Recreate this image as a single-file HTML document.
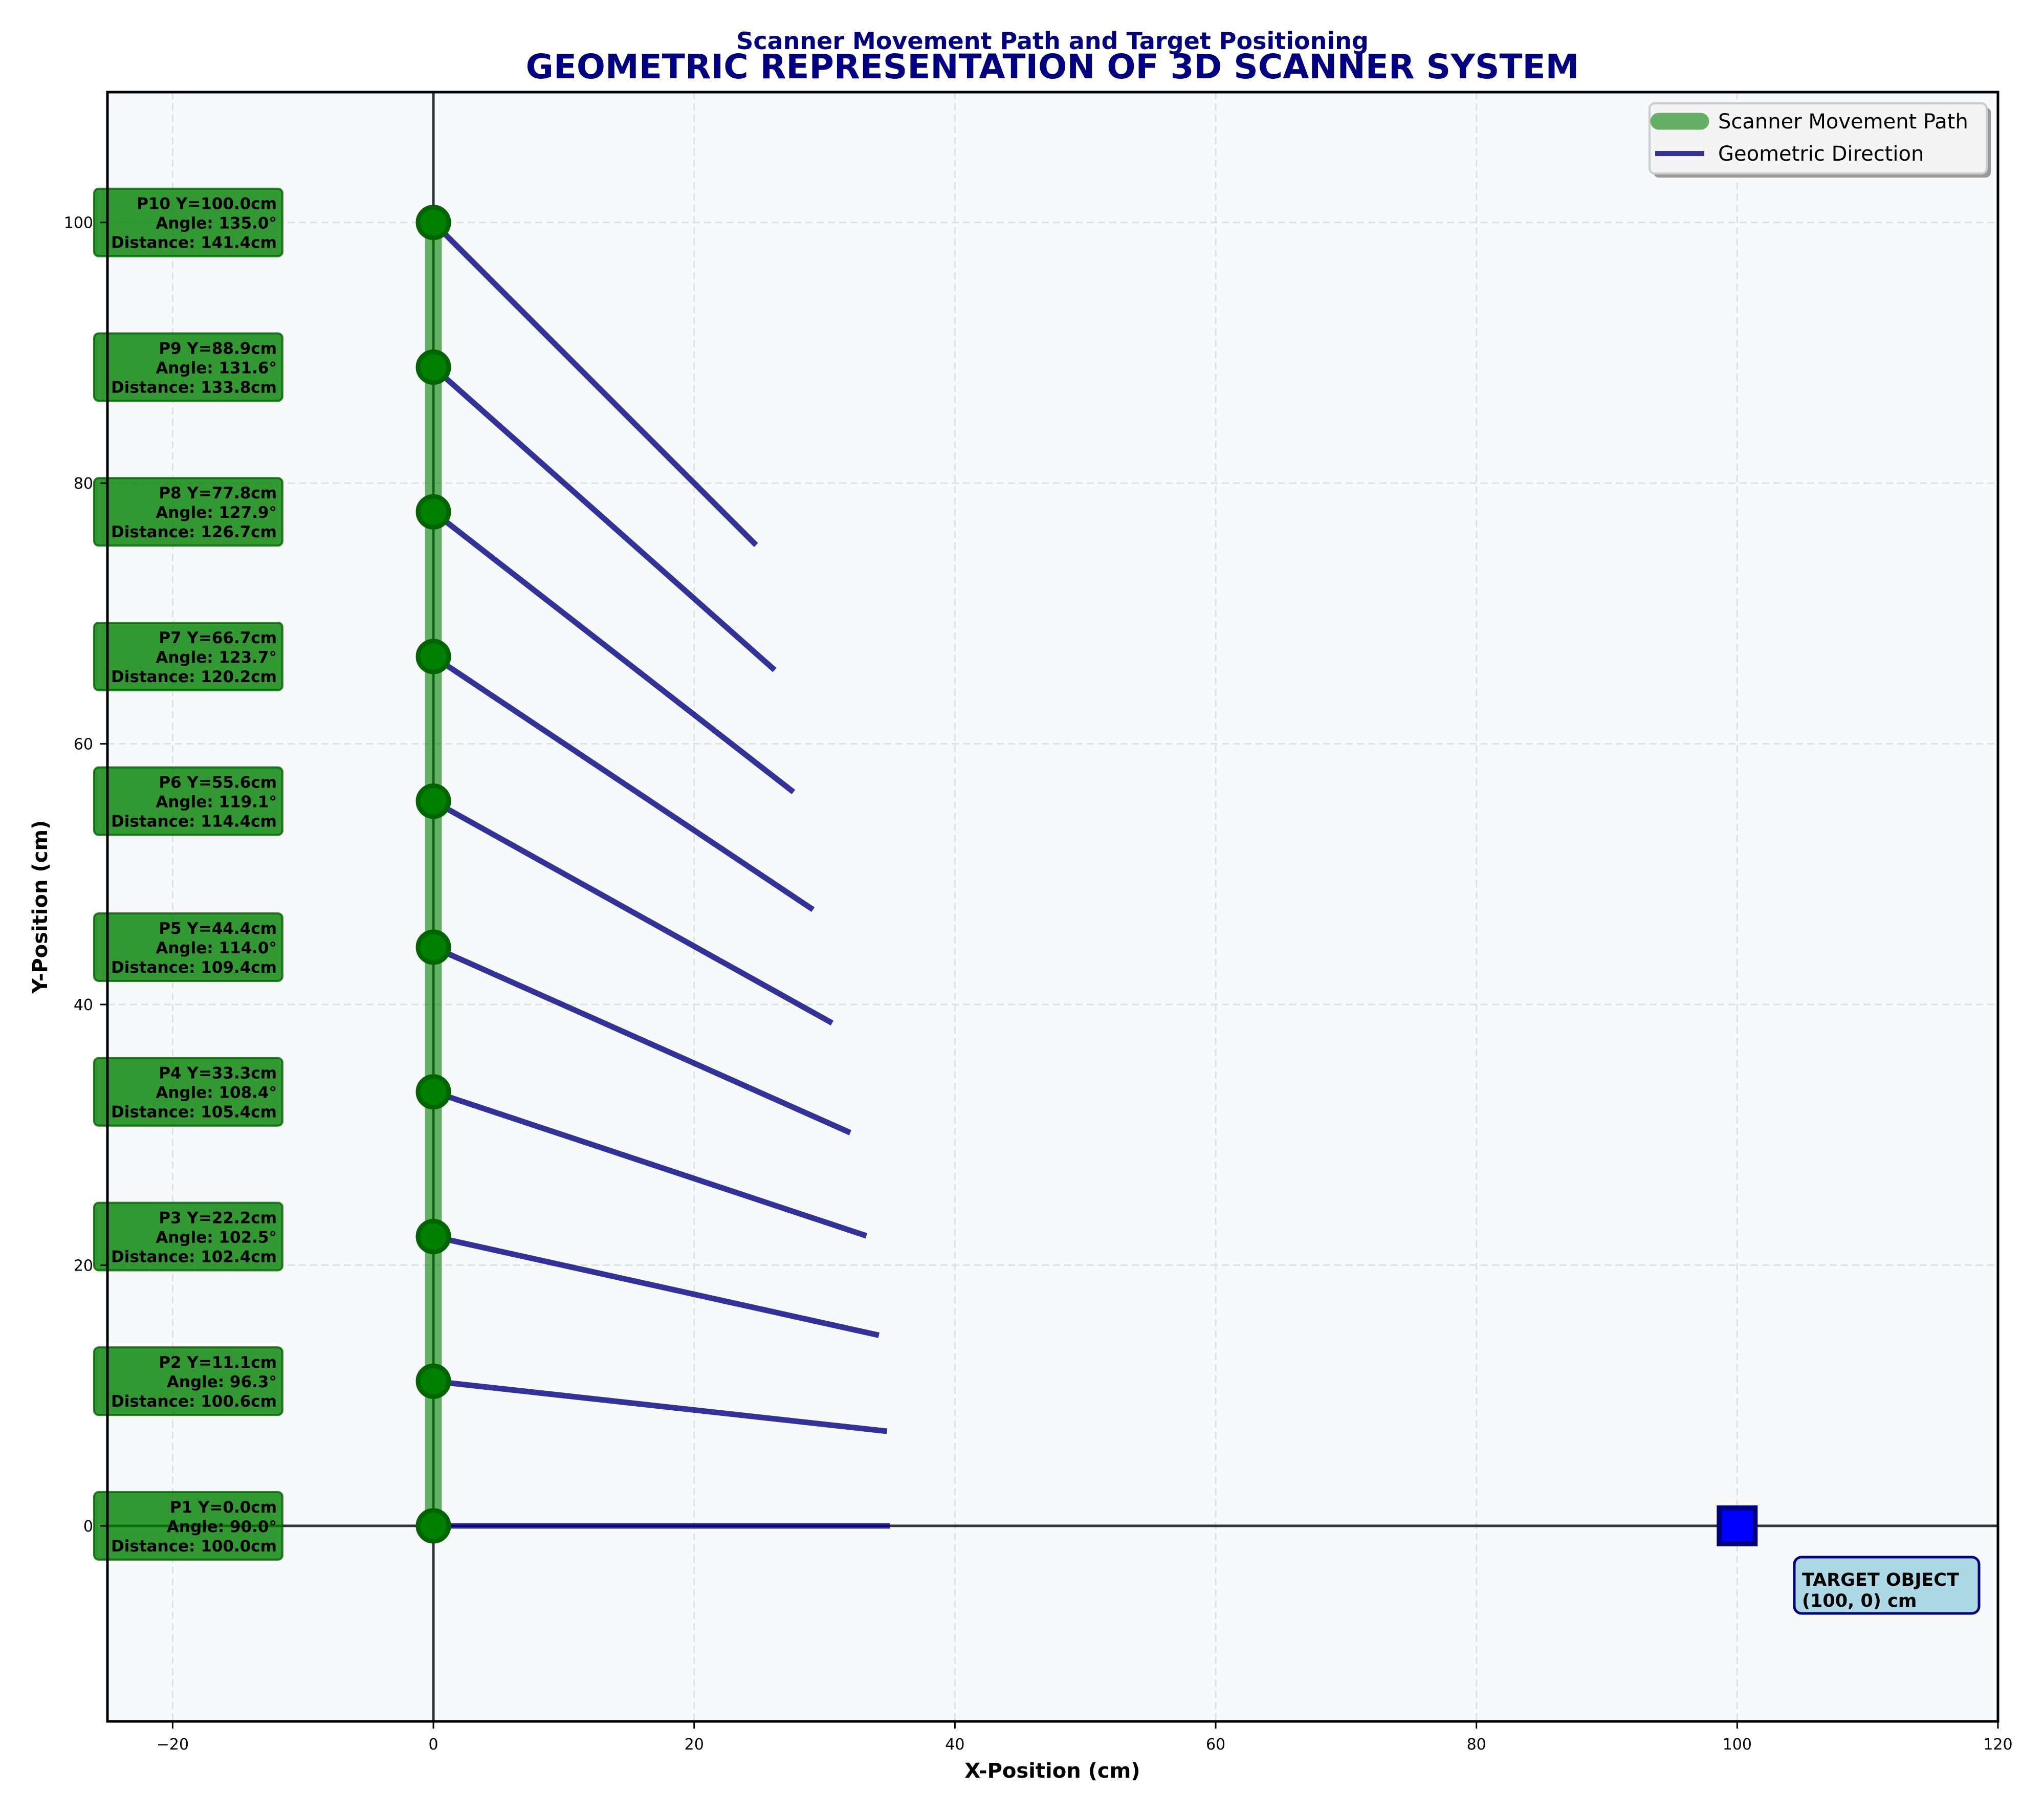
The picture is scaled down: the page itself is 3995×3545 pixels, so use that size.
<!DOCTYPE html>
<html><head><meta charset="utf-8"><style>
html,body{margin:0;padding:0;background:#fff}
svg{display:block;font-family:"DejaVu Sans","Liberation Sans",sans-serif}
</style></head><body>
<svg id="chart" width="3995" height="3545" viewBox="0 0 3995 3545" xmlns="http://www.w3.org/2000/svg">
<text x="2057" y="96" text-anchor="middle" font-size="46" font-weight="bold" fill="#000080">Scanner Movement Path and Target Positioning</text>
<text x="2057" y="153" text-anchor="middle" font-size="66" font-weight="bold" fill="#000080">GEOMETRIC REPRESENTATION OF 3D SCANNER SYSTEM</text>
<rect x="210" y="180" width="3695" height="3184" fill="#f8f9fa"/>
<g id="grid"></g>
<g id="marks"></g>
<rect x="210" y="180" width="3695" height="3184" fill="none" stroke="#000" stroke-width="5"/>
<g id="ticks"></g>
<text x="2057" y="3474" text-anchor="middle" font-size="40" font-weight="bold">X-Position (cm)</text>
<text transform="translate(92,1772) rotate(-90)" text-anchor="middle" font-size="40" font-weight="bold">Y-Position (cm)</text>
<g>
<rect x="3232" y="210" width="659" height="137" rx="10" fill="#999"/>
<rect x="3224" y="202" width="659" height="137" rx="10" fill="#f4f4f4" stroke="#cccccc" stroke-width="4"/>
<line x1="3242" y1="237" x2="3324" y2="237" stroke="#66b066" stroke-width="33" stroke-linecap="round"/>
<text x="3358" y="251" font-size="40">Scanner Movement Path</text>
<line x1="3235" y1="300" x2="3331" y2="300" stroke="#333399" stroke-width="10"/>
<text x="3358" y="314" font-size="40">Geometric Direction</text>
</g>
</svg>
<script>
const positionsY = [0.0, 11.1, 22.2, 33.3, 44.4, 55.6, 66.7, 77.8, 88.9, 100.0];
const anglesDeg = [90.0, 96.3, 102.5, 108.4, 114.0, 119.1, 123.7, 127.9, 131.6, 135.0];
const distancesCm = [100.0, 100.6, 102.4, 105.4, 109.4, 114.4, 120.2, 126.7, 133.8, 141.4];
const target = [100, 0];
const xTicks = [-20, 0, 20, 40, 60, 80, 100, 120];
const yTicks = [0, 20, 40, 60, 80, 100];
const dirLength = 35;

const NS = "http://www.w3.org/2000/svg";
const X0 = 210, X1 = 3905, Y0 = 180, Y1 = 3364;
const xMin = -25, xMax = 120, yMin = -15, yMax = 110;
function sx(v){ return X0 + (v - xMin) / (xMax - xMin) * (X1 - X0); }
function sy(v){ return Y1 - (v - yMin) / (yMax - yMin) * (Y1 - Y0); }
function mk(tag, attrs, parent, txt){
  const e = document.createElementNS(NS, tag);
  for (const k in attrs) e.setAttribute(k, attrs[k]);
  if (txt !== undefined) e.textContent = txt;
  parent.appendChild(e); return e;
}
const grid = document.getElementById('grid');
const marks = document.getElementById('marks');
const ticks = document.getElementById('ticks');

xTicks.forEach(v => {
  const g = mk('line', {x1:sx(v), x2:sx(v), y1:Y0, y2:Y1, stroke:'#e0e0e0', 'stroke-width':3, 'stroke-dasharray':'14 8'}, grid);
  
  
  const t = mk('line', {x1:sx(v), x2:sx(v), y1:Y1, y2:Y1+14, stroke:'#000', 'stroke-width':3}, ticks);
  
  
  const l = mk('text', {x:sx(v), y:Y1+55, 'text-anchor':'middle', 'font-size':30}, ticks, v < 0 ? '\u2212' + Math.abs(v) : String(v));
  
  
});
yTicks.forEach(v => {
  const g = mk('line', {x1:X0, x2:X1, y1:sy(v), y2:sy(v), stroke:'#e0e0e0', 'stroke-width':3, 'stroke-dasharray':'14 8'}, grid);
  
  
  const t = mk('line', {x1:X0-14, x2:X0, y1:sy(v), y2:sy(v), stroke:'#000', 'stroke-width':3}, ticks);
  
  
  const l = mk('text', {x:X0-28, y:sy(v)+11, 'text-anchor':'end', 'font-size':30}, ticks, String(v));
  
  
});

const ax = mk('line', {x1:sx(0), x2:sx(0), y1:Y0, y2:Y1, stroke:'#333', 'stroke-width':5}, marks);


const ay = mk('line', {x1:X0, x2:X1, y1:sy(0), y2:sy(0), stroke:'#333', 'stroke-width':5}, marks);



const pth = mk('line', {x1:sx(0), x2:sx(0), y1:sy(positionsY[0]), y2:sy(positionsY[positionsY.length-1]), stroke:'rgb(0,128,0)', 'stroke-opacity':0.6, 'stroke-width':33}, marks);



positionsY.forEach((y, i) => {
  const a = anglesDeg[i] * Math.PI / 180;
  const ex = dirLength * Math.sin(a), ey = y + dirLength * Math.cos(a);
  const ln = mk('line', {x1:sx(0), y1:sy(y), x2:sx(ex), y2:sy(ey), stroke:'#000080', 'stroke-opacity':0.8, 'stroke-width':11}, marks);
  
  
});

positionsY.forEach((y, i) => {
  const c = mk('circle', {cx:sx(0), cy:sy(y), r:30, fill:'#008000', stroke:'#006400', 'stroke-width':9}, marks);
  
  
  const g = mk('g', {}, marks);
  
  
  const cy = sy(y);
  mk('rect', {x:184, y:cy-66, width:368, height:132, rx:9, fill:'rgba(0,128,0,0.8)', stroke:'#006400', 'stroke-opacity':0.8, 'stroke-width':4}, g);
  const lines = ['P' + (i+1) + ' Y=' + y.toFixed(1) + 'cm', 'Angle: ' + anglesDeg[i].toFixed(1) + '\u00b0', 'Distance: ' + distancesCm[i].toFixed(1) + 'cm'];
  lines.forEach((s, k) => {
    mk('text', {x:541, y:cy - 26 + k*38, 'text-anchor':'end', 'font-size':31, 'font-weight':'bold', fill:'#000'}, g, s);
  });
});

const tg = mk('rect', {x:sx(target[0])-35, y:sy(target[1])-35, width:70, height:70, fill:'#0000ff', stroke:'#000080', 'stroke-width':10}, marks);


const tb = mk('g', {}, marks);


mk('rect', {x:3507, y:3043, width:361, height:110, rx:14, fill:'#add8e6', stroke:'#000080', 'stroke-width':5}, tb);
mk('text', {x:3522, y:3099, 'font-size':35, 'font-weight':'bold'}, tb, 'TARGET OBJECT');
mk('text', {x:3522, y:3140, 'font-size':35, 'font-weight':'bold'}, tb, '(' + target[0] + ', ' + target[1] + ') cm');
</script>
</body></html>
